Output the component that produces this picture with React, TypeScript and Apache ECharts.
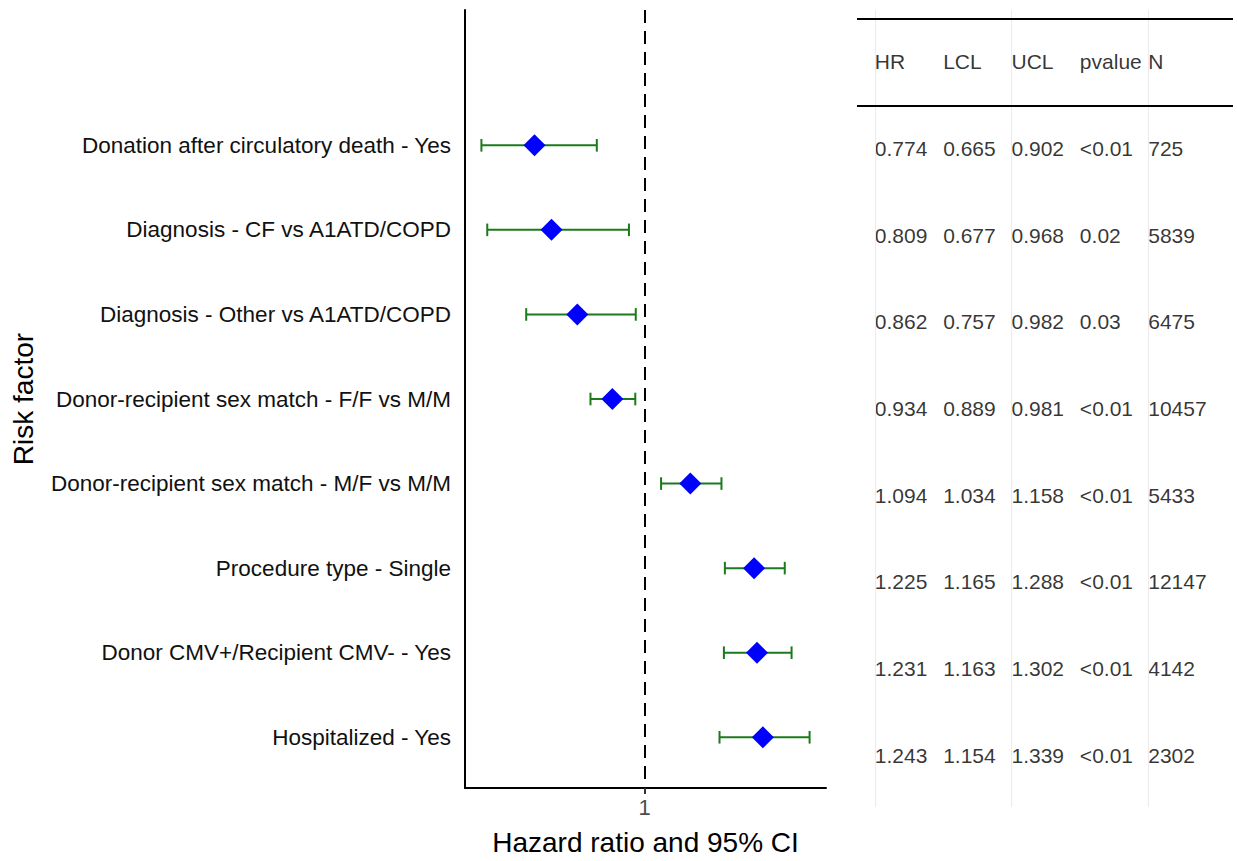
import React, { useEffect, useRef } from "react";
import * as echarts from "echarts";

const riskFactors = [
  "Donation after circulatory death - Yes",
  "Diagnosis - CF vs A1ATD/COPD",
  "Diagnosis - Other vs A1ATD/COPD",
  "Donor-recipient sex match - F/F vs M/M",
  "Donor-recipient sex match - M/F vs M/M",
  "Procedure type - Single",
  "Donor CMV+/Recipient CMV- - Yes",
  "Hospitalized - Yes",
];
const hr = [0.774, 0.809, 0.862, 0.934, 1.094, 1.225, 1.231, 1.243];
const lcl = [0.665, 0.677, 0.757, 0.889, 1.034, 1.165, 1.163, 1.154];
const ucl = [0.902, 0.968, 0.982, 0.981, 1.158, 1.288, 1.302, 1.339];
const pvalue = ["<0.01", "0.02", "0.03", "<0.01", "<0.01", "<0.01", "<0.01", "<0.01"];
const nObs = [725, 5839, 6475, 10457, 5433, 12147, 4142, 2302];
const tableHeaders = ["HR", "LCL", "UCL", "pvalue", "N"];
const xTicks = [1];

const FONT = "'Liberation Sans', Arial, Helvetica, sans-serif";
const GREEN = "#1b7a1b";

export default function App() {
  const ref = useRef<HTMLDivElement>(null);

  useEffect(() => {
    if (!ref.current) return;
    const chart = echarts.init(ref.current, null, { renderer: "svg" });

    const rowIdx = riskFactors.map((_, i) => i + 1);
    const points = hr.map((v, i) => [v, rowIdx[i]]);
    const bars = hr.map((_, i) => [lcl[i], ucl[i], rowIdx[i]]);

    const tableData: any[] = [];
    tableHeaders.forEach((h, c) => tableData.push([c + 1, 0, h]));
    hr.forEach((_, i) => {
      const cells = [
        hr[i].toFixed(3),
        lcl[i].toFixed(3),
        ucl[i].toFixed(3),
        pvalue[i],
        String(nObs[i]),
      ];
      cells.forEach((t, c) => tableData.push([c + 1, i + 1, t]));
    });

    const option: any = {
      animation: false,
      textStyle: { fontFamily: FONT },
      grid: [
        { left: 465, top: 10, width: 361, height: 778, containLabel: false },
        { left: 857, top: 10, width: 376, height: 797, containLabel: false },
      ],
      xAxis: [
        {
          gridIndex: 0,
          type: "value",
          min: 0.6313,
          max: 1.3727,
          axisLine: { show: true, onZero: false, lineStyle: { color: "#000", width: 2 } },
          axisTick: { show: true, customValues: xTicks, length: 6, lineStyle: { color: "#333", width: 2 } },
          axisLabel: {
            customValues: xTicks,
            fontSize: 22,
            color: "#4d4d4d",
            margin: 8,
            fontFamily: FONT,
            formatter: (v: number) => String(v),
          },
          splitLine: { show: false },
          name: "Hazard ratio and 95% CI",
          nameLocation: "middle",
          nameGap: 40,
          nameTextStyle: { fontSize: 28, color: "#000", fontFamily: FONT },
        },
        {
          gridIndex: 1,
          type: "value",
          min: 0.74,
          max: 6.24,
          show: false,
          splitLine: { show: false },
        },
      ],
      yAxis: [
        {
          gridIndex: 0,
          type: "value",
          inverse: true,
          min: -0.6,
          max: 8.6,
          axisLine: { show: true, onZero: false, lineStyle: { color: "#000", width: 2 } },
          axisTick: { show: false },
          axisLabel: {
            customValues: rowIdx,
            fontSize: 22.5,
            color: "#111",
            margin: 14,
            fontFamily: FONT,
            formatter: (v: number) => riskFactors[Math.round(v) - 1] ?? "",
          },
          splitLine: { show: false },
          name: "Risk factor",
          nameLocation: "middle",
          nameGap: 428,
          nameRotate: 90,
          nameTextStyle: { fontSize: 28, color: "#000", fontFamily: FONT },
        },
        {
          gridIndex: 1,
          type: "value",
          inverse: true,
          min: -0.6,
          max: 8.6,
          show: false,
          splitLine: { show: false },
        },
      ],
      series: [
        {
          type: "custom",
          xAxisIndex: 0,
          yAxisIndex: 0,
          data: bars,
          encode: { x: [0, 1], y: 2 },
          renderItem: (params: any, api: any) => {
            const y = api.value(2);
            const p1 = api.coord([api.value(0), y]);
            const p2 = api.coord([api.value(1), y]);
            const h = 6.3;
            const style = { stroke: GREEN, lineWidth: 2, fill: null };
            return {
              type: "group",
              children: [
                { type: "line", shape: { x1: p1[0], y1: p1[1], x2: p2[0], y2: p2[1] }, style },
                { type: "line", shape: { x1: p1[0], y1: p1[1] - h, x2: p1[0], y2: p1[1] + h }, style },
                { type: "line", shape: { x1: p2[0], y1: p2[1] - h, x2: p2[0], y2: p2[1] + h }, style },
              ],
            };
          },
          z: 2,
        },
        {
          type: "scatter",
          xAxisIndex: 0,
          yAxisIndex: 0,
          data: points,
          symbol: "diamond",
          symbolSize: [22, 22],
          itemStyle: { color: "#0000FF", opacity: 1 },
          z: 3,
          markLine: {
            silent: true,
            symbol: ["none", "none"],
            label: { show: false },
            lineStyle: { type: [13, 8], color: "#000", width: 2 },
            data: [{ xAxis: 1 }],
            z: 1,
          },
        },
        {
          type: "scatter",
          xAxisIndex: 1,
          yAxisIndex: 1,
          data: tableData,
          symbolSize: 0,
          itemStyle: { color: "#000" },
          label: {
            show: true,
            position: "right",
            distance: 0,
            fontSize: 21,
            color: "#000",
            textBorderWidth: 0,
            fontFamily: FONT,
            formatter: (p: any) => p.data[2],
          },
          markLine: {
            silent: true,
            symbol: ["none", "none"],
            label: { show: false },
            data: [
              { xAxis: 1, lineStyle: { color: "#ebebeb", width: 1, type: "solid" } },
              { xAxis: 3, lineStyle: { color: "#ebebeb", width: 1, type: "solid" } },
              { xAxis: 5, lineStyle: { color: "#ebebeb", width: 1, type: "solid" } },
              { yAxis: -0.5, lineStyle: { color: "#000", width: 2, type: "solid" } },
              { yAxis: 0.5, lineStyle: { color: "#000", width: 2, type: "solid" } },
            ],
          },
        },
      ],
    };

    chart.setOption(option);
    return () => chart.dispose();
  }, []);

  return (
    <div
      ref={ref}
      style={{ position: "fixed", left: 0, top: 0, width: 1237, height: 861, background: "#fff" }}
    />
  );
}
